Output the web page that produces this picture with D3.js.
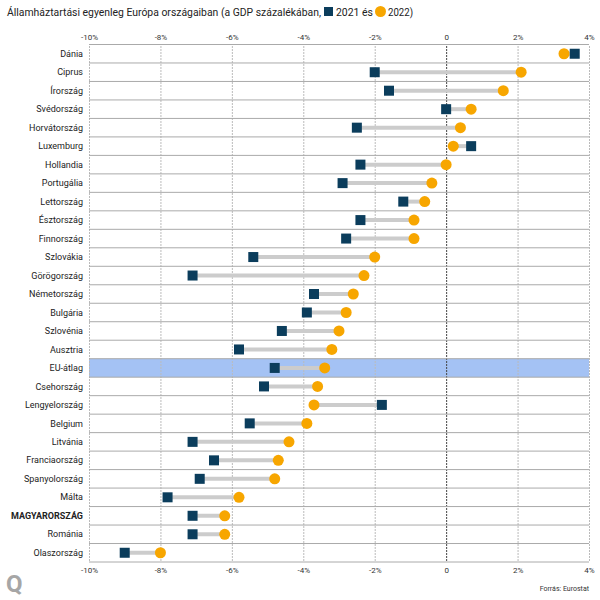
<!DOCTYPE html>
<html><head><meta charset="utf-8">
<script src="https://cdn.jsdelivr.net/npm/d3@7"></script>
<style>body{margin:0;background:#fff;} text{font-family:Roboto, "Noto Sans", sans-serif;}</style>
</head><body>
<svg id="c" width="600" height="600"></svg>
<script>
const countries = ["Dánia","Ciprus","Írország","Svédország","Horvátország","Luxemburg","Hollandia","Portugália","Lettország","Észtország","Finnország","Szlovákia","Görögország","Németország","Bulgária","Szlovénia","Ausztria","EU-átlag","Csehország","Lengyelország","Belgium","Litvánia","Franciaország","Spanyolország","Málta","MAGYARORSZÁG","Románia","Olaszország"];
const v2021 = [3.6,-2.0,-1.6,0.0,-2.5,0.7,-2.4,-2.9,-1.2,-2.4,-2.8,-5.4,-7.1,-3.7,-3.9,-4.6,-5.8,-4.8,-5.1,-1.8,-5.5,-7.1,-6.5,-6.9,-7.8,-7.1,-7.1,-9.0];
const v2022 = [3.3,2.1,1.6,0.7,0.4,0.2,0.0,-0.4,-0.6,-0.9,-0.9,-2.0,-2.3,-2.6,-2.8,-3.0,-3.2,-3.4,-3.6,-3.7,-3.9,-4.4,-4.7,-4.8,-5.8,-6.2,-6.2,-8.0];
const xTicks = [-10,-8,-6,-4,-2,0,2,4];
const highlight = "EU-átlag";
const boldLabel = "MAGYARORSZÁG";

(function(){
const C2021 = "#0b3d5c", C2022 = "#f7a600";
const svg = d3.select("#c");
const x = d3.scaleLinear().domain([-10,4]).range([89,589]);
const y = d3.scaleBand().domain(countries).range([44.5,562]);
const data = countries.map((c,i)=>({c, a:v2021[i], b:v2022[i]}));

svg.append("rect").attr("x",x(-10)).attr("width",x(4)-x(-10))
  .attr("y",y(highlight)).attr("height",y.bandwidth()).attr("fill","#a4c2f4");

svg.append("g").selectAll("line").data(xTicks).join("line")
  .attr("x1",d=>x(d)+0.5).attr("x2",d=>x(d)+0.5).attr("y1",46).attr("y2",562)
  .attr("stroke",d=>d===0?"#444":"#bbb").attr("stroke-width",1).attr("stroke-dasharray","2,1");

const bounds = countries.map(c=>y(c)).concat([y.range()[1]]);
svg.append("g").selectAll("line").data(bounds).join("line")
  .attr("x1",x(-10)).attr("x2",x(4)).attr("y1",d=>d).attr("y2",d=>d)
  .attr("stroke","#aaa").attr("stroke-width",1);

const fmt = d=> d===0 ? "0" : d+"%";
const axTop = svg.append("g").attr("transform","translate(0,40)")
  .call(d3.axisTop(x).tickValues(xTicks).tickFormat(fmt).tickSize(0).tickPadding(0));
const axBot = svg.append("g").attr("transform","translate(0,567)")
  .call(d3.axisBottom(x).tickValues(xTicks).tickFormat(fmt).tickSize(0).tickPadding(0));
[axTop,axBot].forEach(g=>{g.select(".domain").remove();
  g.selectAll("text").attr("font-family","Roboto").attr("font-size",8).attr("fill","#333");});

svg.append("g").selectAll("text").data(data).join("text")
  .attr("x",83).attr("y",d=>y(d.c)+y.bandwidth()/2).attr("dy","0.35em")
  .attr("text-anchor","end").attr("font-size",9).attr("fill","#222")
  .attr("font-weight",d=>d.c===boldLabel?"bold":"normal").text(d=>d.c);

svg.append("g").selectAll("line").data(data).join("line")
  .attr("x1",d=>x(d.a)).attr("x2",d=>x(d.b))
  .attr("y1",d=>y(d.c)+y.bandwidth()/2).attr("y2",d=>y(d.c)+y.bandwidth()/2)
  .attr("stroke","#ccc").attr("stroke-width",4);

svg.append("g").selectAll("rect").data(data).join("rect")
  .attr("x",d=>x(d.a)-5).attr("y",d=>y(d.c)+y.bandwidth()/2-5)
  .attr("width",10).attr("height",10).attr("fill",C2021);
svg.append("g").selectAll("circle").data(data).join("circle")
  .attr("cx",d=>x(d.b)).attr("cy",d=>y(d.c)+y.bandwidth()/2).attr("r",5.5).attr("fill",C2022);

svg.append("text").attr("x",7).attr("y",16).attr("font-size",11).attr("fill","#222")
  .attr("textLength",314).attr("lengthAdjust","spacingAndGlyphs")
  .text("Államháztartási egyenleg Európa országaiban (a GDP százalékában,");
svg.append("rect").attr("x",324).attr("y",7).attr("width",9).attr("height",9).attr("fill",C2021);
svg.append("text").attr("x",336).attr("y",16).attr("font-size",11).attr("fill","#222")
  .attr("textLength",37).attr("lengthAdjust","spacingAndGlyphs").text("2021 és");
svg.append("circle").attr("cx",380.5).attr("cy",11.5).attr("r",5.5).attr("fill",C2022);
svg.append("text").attr("x",388).attr("y",16).attr("font-size",11).attr("fill","#222")
  .attr("textLength",25).attr("lengthAdjust","spacingAndGlyphs").text("2022)");

svg.append("text").attr("x",6).attr("y",592).attr("font-size",24).attr("font-weight","bold")
  .attr("fill","#a6a6a6").text("Q");
svg.append("text").attr("x",589).attr("y",591).attr("text-anchor","end").attr("font-size",7)
  .attr("fill","#333").text("Forrás: Eurostat");
})();
</script>
</body></html>
